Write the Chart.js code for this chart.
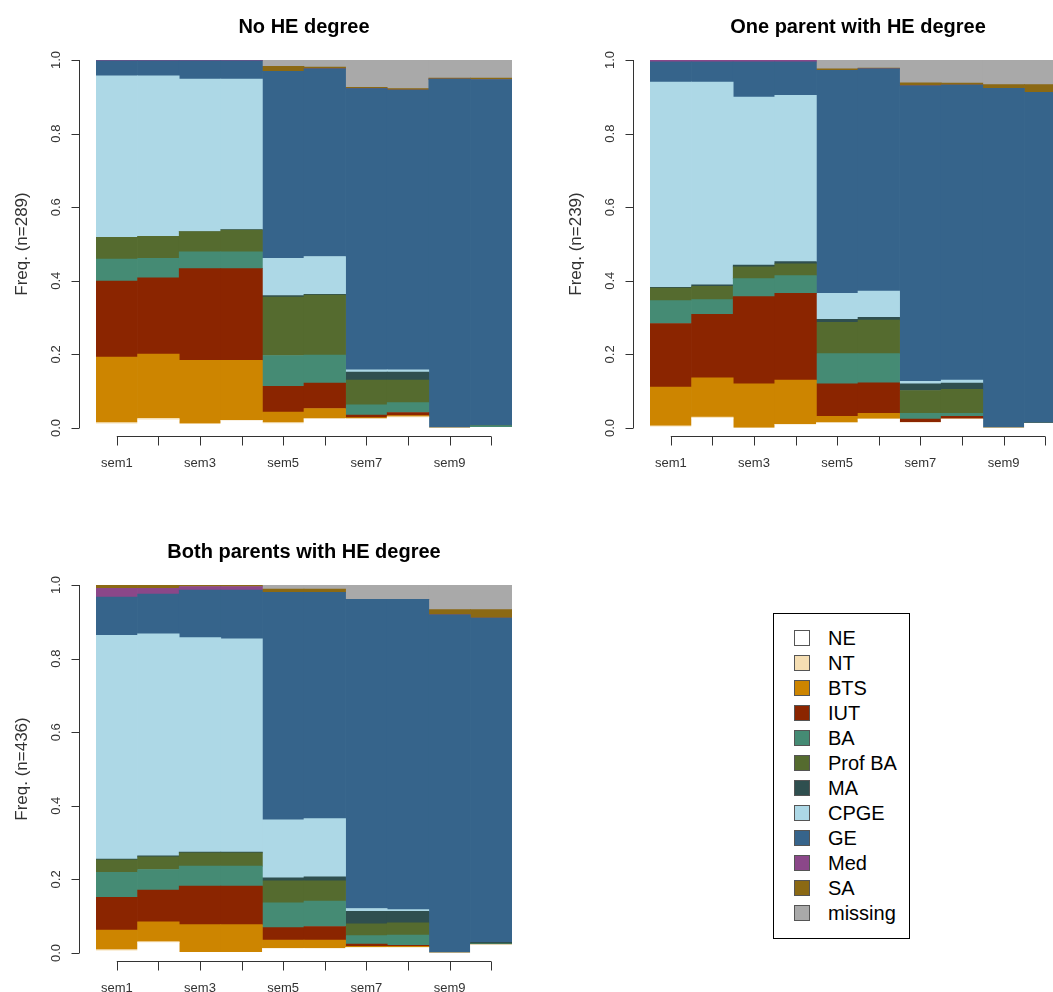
<!DOCTYPE html>
<html>
<head>
<meta charset="utf-8">
<script src="https://cdn.jsdelivr.net/npm/chart.js@4.4.1/dist/chart.umd.min.js"></script>
<style>
  body { margin: 0; background: #fff; overflow: hidden; width: 1053px; height: 992px; position: relative; font-family: "Liberation Sans", Arial, sans-serif; }
  canvas { position: absolute; }
  #legend { position: absolute; left: 773px; top: 613px; width: 135px; height: 324px; border: 1px solid #000; }
  .item { position: absolute; left: 20px; height: 25px; font-size: 20px; line-height: 25px; color: #000; }
  .item span.box { position: absolute; left: 0; top: 4px; width: 14px; height: 14px; border: 1px solid #555; }
  .item span.lab { position: absolute; left: 34px; white-space: nowrap; }
</style>
</head>
<body>
<canvas id="c1" width="527" height="496" style="left:0;top:0"></canvas>
<canvas id="c2" width="527" height="496" style="left:554px;top:0"></canvas>
<canvas id="c3" width="527" height="496" style="left:0;top:525px"></canvas>
<div id="legend"></div>
<script>
const semesters = ['sem1','sem2','sem3','sem4','sem5','sem6','sem7','sem8','sem9','sem10']
const states = ['NE','NT','BTS','IUT','BA','Prof BA','MA','CPGE','GE','Med','SA','missing']
const stateColors = ['#FFFFFF','#F5DEB3','#CD8500','#8B2500','#458B74','#556B2F','#2F4F4F','#ADD8E6','#36648B','#8B4789','#8B6914','#A9A9A9']
const yTicks = [0, 0.2, 0.4, 0.6, 0.8, 1.0]

// one row per state (same order as states), one value per semester
const noHE = [
  [.011,.022,.010,.020,.012,.025,.025,.028,0,.002],   // NE
  [.004,.004,.002,0,.003,0,0,.003,0,0],               // NT
  [.178,.175,.172,.164,.028,.028,.003,.003,0,0],      // BTS
  [.206,.207,.249,.249,.070,.069,.007,.008,0,0],      // IUT
  [.060,.053,.046,.046,.084,.076,.028,.027,0,.004],   // BA
  [.059,.060,.055,.059,.159,.163,.067,.061,0,0],      // Prof BA
  [0,0,0,.001,.004,.002,.022,.022,0,0],               // MA
  [.439,.436,.414,.409,.101,.103,.006,.006,0,0],      // CPGE
  [.041,.041,.050,.050,.508,.510,.764,.760,.948,.941],// GE
  [.002,.002,.002,.002,0,0,0,0,0,0],                  // Med
  [0,0,0,0,.014,.005,.004,.004,.003,.004],            // SA
  [0,0,0,0,.017,.019,.074,.078,.049,.049]             // missing
]
const oneHE = [
  [.003,.027,0,.009,.014,.024,.015,.024,0,.013],
  [.003,.003,0,0,0,0,0,0,0,0],
  [.105,.106,.120,.121,.018,.016,0,0,0,0],
  [.173,.173,.237,.236,.088,.083,.009,.008,0,0],
  [.062,.040,.049,.048,.082,.079,.016,.008,0,0],
  [.034,.036,.032,.032,.085,.091,.062,.065,0,0],
  [.002,.004,.005,.006,.008,.008,.018,.017,0,.002],
  [.558,.551,.456,.452,.071,.071,.007,.008,0,0],
  [.055,.055,.096,.091,.606,.604,.803,.802,.923,.897],
  [.005,.005,.005,.005,0,0,0,0,0,0],
  [0,0,0,0,.004,.002,.008,.005,.010,.021],
  [0,0,0,0,.024,.022,.062,.063,.067,.067]
]
const bothHE = [
  [.006,.028,.002,.002,.012,.012,.015,.015,0,.022],
  [.003,.003,0,0,0,0,0,0,0,0],
  [.053,.054,.075,.075,.023,.023,.003,.003,0,0],
  [.089,.086,.105,.105,.034,.037,.006,.003,0,0],
  [.068,.056,.054,.054,.067,.069,.023,.028,0,.003],
  [.034,.034,.036,.036,.060,.055,.032,.033,0,0],
  [.002,.003,.002,.002,.008,.011,.034,.031,0,.004],
  [.608,.603,.583,.580,.158,.158,.008,.005,0,0],
  [.104,.108,.129,.132,.618,.615,.840,.843,.919,.881],
  [.024,.016,.010,.010,0,0,0,0,0,0],
  [.009,.009,.004,.004,.009,.009,0,0,.014,.023],
  [0,0,0,0,.011,.011,.039,.039,.067,.067]
]

const rAxes = {
  id: 'rAxes',
  afterDraw(chart, args, opts) {
    const ctx = chart.ctx
    const area = chart.chartArea
    const xs = chart.scales.x, ys = chart.scales.y
    ctx.save()
    ctx.strokeStyle = '#333'
    ctx.lineWidth = 1
    ctx.fillStyle = '#333'
    // y axis
    const ax = Math.round(area.left - 17) + 0.5
    ctx.beginPath()
    ctx.moveTo(ax, ys.getPixelForValue(0))
    ctx.lineTo(ax, ys.getPixelForValue(1))
    yTicks.forEach(v => {
      const y = Math.round(ys.getPixelForValue(v)) + 0.5
      ctx.moveTo(ax, y); ctx.lineTo(ax - 8, y)
    })
    ctx.stroke()
    ctx.font = '13px "Liberation Sans", Arial, sans-serif'
    ctx.textAlign = 'center'
    ctx.textBaseline = 'middle'
    yTicks.forEach(v => {
      ctx.save()
      ctx.translate(ax - 23, ys.getPixelForValue(v))
      ctx.rotate(-Math.PI / 2)
      ctx.fillText(v.toFixed(1), 0, 0)
      ctx.restore()
    })
    ctx.save()
    ctx.font = '17px "Liberation Sans", Arial, sans-serif'
    ctx.translate(area.left - 74, (area.top + area.bottom) / 2)
    ctx.rotate(-Math.PI / 2)
    ctx.fillText(opts.ylab, 0, 0)
    ctx.restore()
    // x axis
    const ay = Math.round(area.bottom + 8) + 0.5
    ctx.beginPath()
    ctx.moveTo(xs.getPixelForValue(0), ay)
    ctx.lineTo(xs.getPixelForValue(semesters.length - 1), ay)
    semesters.forEach((s, i) => {
      const x = Math.round(xs.getPixelForValue(i)) + 0.5
      ctx.moveTo(x, ay); ctx.lineTo(x, ay + 9)
    })
    ctx.stroke()
    ctx.font = '13px "Liberation Sans", Arial, sans-serif'
    semesters.forEach((s, i) => {
      if (i % 2 === 0) ctx.fillText(s, xs.getPixelForValue(i), ay + 27)
    })
    // title
    ctx.fillStyle = '#000'
    ctx.font = 'bold 20px "Liberation Sans", Arial, sans-serif'
    ctx.fillText(opts.title, (area.left + area.right) / 2, 27)
    ctx.restore()
  }
}

function drawPanel(id, rows, title, ylab) {
  const datasets = states.map((st, k) => ({
    label: st,
    data: rows[k],
    backgroundColor: stateColors[k],
    borderWidth: 0,
    barPercentage: 1,
    categoryPercentage: 1
  }))
  new Chart(document.getElementById(id), {
    type: 'bar',
    data: { labels: semesters, datasets: datasets },
    plugins: [rAxes],
    options: {
      responsive: false,
      animation: false,
      devicePixelRatio: 1,
      layout: { padding: { left: 96, right: 15, top: 60, bottom: 68 } },
      scales: {
        x: { stacked: true, display: false },
        y: { stacked: true, display: false, min: 0, max: 1 }
      },
      plugins: {
        legend: { display: false },
        tooltip: { enabled: false },
        rAxes: { title: title, ylab: ylab }
      }
    }
  })
}

drawPanel('c1', noHE, 'No HE degree', 'Freq. (n=289)')
drawPanel('c2', oneHE, 'One parent with HE degree', 'Freq. (n=239)')
drawPanel('c3', bothHE, 'Both parents with HE degree', 'Freq. (n=436)')

// legend
const legend = document.getElementById('legend')
states.forEach((st, k) => {
  const item = document.createElement('div')
  item.className = 'item'
  item.style.top = (12 + 25 * k) + 'px'
  item.innerHTML = '<span class="box" style="background:' + stateColors[k] + '"></span><span class="lab">' + st + '</span>'
  legend.appendChild(item)
})
</script>
</body>
</html>
